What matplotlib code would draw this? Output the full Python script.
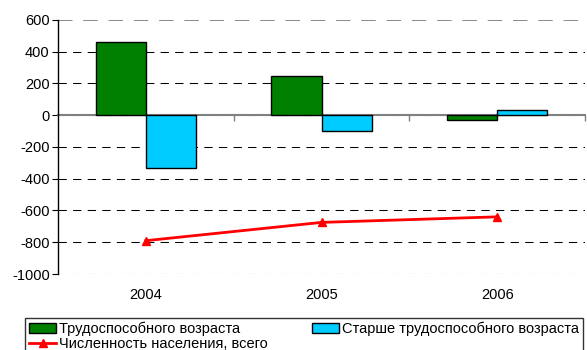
import numpy as np
import matplotlib
matplotlib.use('Agg')
import matplotlib.pyplot as plt

plt.rcParams['font.family'] = ['Liberation Sans', 'DejaVu Sans']
plt.rcParams['axes.unicode_minus'] = False

years = ['2004', '2005', '2006']
working_age = [460, 250, -30]
above_working_age = [-330, -100, 30]
population_total = [-790, -675, -640]

labels = ['Трудоспособного возраста',
          'Старше трудоспособного возраста',
          'Численность населения, всего']

fig = plt.figure(figsize=(5.87, 3.5), dpi=100)
ax = fig.add_axes([58 / 587, 1 - 274 / 350, 527 / 587, 254 / 350])

x = np.arange(len(years))
w = 0.286
b1 = ax.bar(x - w / 2, working_age, w, color='#008000', edgecolor='black', linewidth=1, zorder=3)
b2 = ax.bar(x + w / 2, above_working_age, w, color='#00ccff', edgecolor='black', linewidth=1, zorder=3)
ln, = ax.plot(x, population_total, color='red', linewidth=2, marker='^', markersize=6, zorder=4)

ax.set_xlim(-0.5, 2.5)
ax.set_ylim(-1000, 600)
ax.set_yticks(np.arange(-1000, 601, 200))
ax.yaxis.grid(True, linestyle=(0, (8, 6)), color='black', linewidth=0.75)
ax.set_axisbelow(True)
# top gridline is lighter
ax.get_ygridlines()[-1].set_color('#808080')
ax.get_ygridlines()[-1].set_linewidth(1.3)

for s in ['top', 'right']:
    ax.spines[s].set_visible(False)
ax.spines['left'].set_linewidth(1)
ax.spines['bottom'].set_position(('data', 0))
ax.spines['bottom'].set_color('#808080')
ax.spines['bottom'].set_linewidth(1.5)
ax.spines['bottom'].set_zorder(2)

# category boundary ticks on the zero line
ax.set_xticks([0.5, 1.5, 2.5])
ax.set_xticklabels([])
ax.tick_params(axis='x', length=4, color='#808080', width=1)
ax.tick_params(axis='y', length=4, labelsize=10.5, pad=2)

sec = ax.secondary_xaxis('bottom')
sec.set_xticks(x)
sec.set_xticklabels(years)
sec.tick_params(length=0, labelsize=10.5, pad=10)
sec.spines['bottom'].set_visible(False)

leg = fig.legend([b1, ln, b2], [labels[0], labels[2], labels[1]], ncol=2,
                 loc='upper left', bbox_to_anchor=(25 / 587, 1 - 318 / 350),
                 borderaxespad=0, fontsize=10.5, frameon=True, fancybox=False,
                 edgecolor='black', handlelength=1.9, handleheight=0.7,
                 handletextpad=0.2, columnspacing=3.0, borderpad=0.25,
                 labelspacing=0.05)
leg.get_frame().set_linewidth(1)

fig.savefig('out.png', dpi=100)
